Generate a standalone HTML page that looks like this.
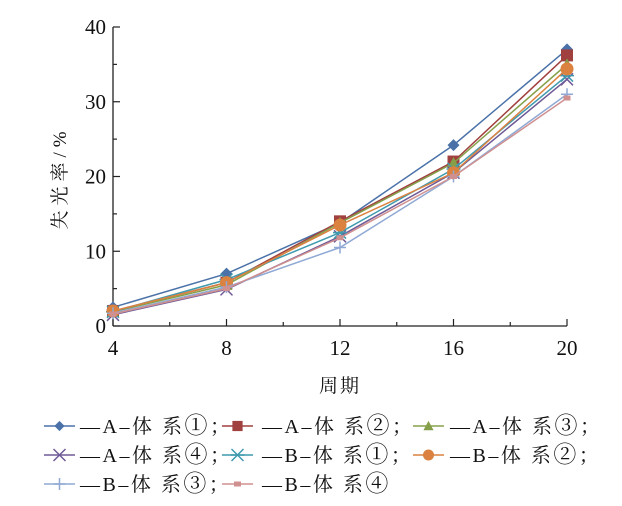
<!DOCTYPE html>
<html><head><meta charset="utf-8">
<style>
body{margin:0;background:#fff;}
svg text{font-family:"Liberation Serif","Noto Serif CJK SC",serif;fill:#111;}
</style></head>
<body>
<svg id="chart" width="622" height="501" xmlns="http://www.w3.org/2000/svg">
<g id="axes"></g>
<g id="series"></g>
<g id="legend"></g>
</svg>
<script>
const periods=[4,8,12,16,20];
const seriesNames=["A–体系①","A–体系②","A–体系③","A–体系④","B–体系①","B–体系②","B–体系③","B–体系④"];
const a1=[2.5,7.0,13.8,24.2,37.0];
const a2=[2.0,5.8,14.0,22.0,36.2];
const a3=[1.9,5.5,13.8,21.8,35.0];
const a4=[1.5,4.9,12.0,20.5,33.0];
const b1=[1.9,6.2,12.5,21.0,33.5];
const b2=[2.0,5.8,13.5,20.5,34.4];
const b3=[1.7,5.2,10.5,20.0,31.0];
const b4=[1.6,5.0,11.8,20.0,30.5];
const xTicks=[4,8,12,16,20];
const yTicks=[0,10,20,30,40];
const allSeries=[a1,a2,a3,a4,b1,b2,b3,b4];
const colors=["#4a72a8","#a0403f","#86a04a","#6e5a96","#3f9aae","#db8240","#8fa9d4","#d09090"];
const markers=["diamond","square","triangle","x","star","circle","plus","dash"];
const NS="http://www.w3.org/2000/svg";
const X0=113,X1=567,Y0=326,Y1=27;
const xs=v=>X0+(v-4)/(20-4)*(X1-X0);
const ys=v=>Y0-v/40*(Y0-Y1);
function mk(tag,attrs,parent){const e=document.createElementNS(NS,tag);for(const k in attrs)e.setAttribute(k,attrs[k]);parent.appendChild(e);return e;}
const axes=document.getElementById('axes');
let l=mk('line',{x1:X0,y1:Y1,x2:X0,y2:Y0,stroke:'#222','stroke-width':1.3},axes);

l=mk('line',{x1:X0,y1:Y0,x2:X1,y2:Y0,stroke:'#222','stroke-width':1.3},axes);

yTicks.forEach(v=>{
  const y=ys(v);
  mk('line',{x1:X0,y1:y,x2:X0+7,y2:y,stroke:'#222','stroke-width':1.2},axes);
  if(v<40) mk('line',{x1:X0,y1:ys(v+5),x2:X0+4,y2:ys(v+5),stroke:'#222','stroke-width':1.2},axes);
  const t=mk('text',{x:X0-7,y:y+7,'text-anchor':'end','font-size':21},axes);
  t.textContent=v;
  
  
});
xTicks.forEach((v,i)=>{
  const x=xs(v);
  mk('line',{x1:x,y1:Y0,x2:x,y2:Y0-7,stroke:'#222','stroke-width':1.2},axes);
  if(i<xTicks.length-1) mk('line',{x1:xs(v+2),y1:Y0,x2:xs(v+2),y2:Y0-4,stroke:'#222','stroke-width':1.2},axes);
  const t=mk('text',{x:x,y:Y0+29,'text-anchor':'middle','font-size':21},axes);
  t.textContent=v;
  
  
});
let t=mk('text',{x:340,y:392,'text-anchor':'middle','font-size':19,'letter-spacing':'2'},axes);
t.textContent='周期';


t=mk('text',{x:0,y:0,'text-anchor':'middle','font-size':19,'letter-spacing':'5',transform:'translate(66,178) rotate(-90)'},axes);
t.textContent='失光率/%';



function marker(type,x,y,c,parent,s){
  s=s||1;let e;
  if(type==='diamond') e=mk('polygon',{points:`${x},${y-6*s} ${x+6*s},${y} ${x},${y+6*s} ${x-6*s},${y}`,fill:c},parent);
  else if(type==='square') e=mk('rect',{x:x-6*s,y:y-6*s,width:12*s,height:12*s,fill:c},parent);
  else if(type==='triangle') e=mk('polygon',{points:`${x},${y-6*s} ${x+6*s},${y+5*s} ${x-6*s},${y+5*s}`,fill:c},parent);
  else if(type==='circle') e=mk('circle',{cx:x,cy:y,r:6.5*s,fill:c},parent);
  else if(type==='x') e=mk('path',{d:`M${x-6},${y-6}L${x+6},${y+6}M${x-6},${y+6}L${x+6},${y-6}`,stroke:c,'stroke-width':1.5},parent);
  else if(type==='star') e=mk('path',{d:`M${x-6},${y-6}L${x+6},${y+6}M${x-6},${y+6}L${x+6},${y-6}M${x-7},${y}L${x+7},${y}`,stroke:c,'stroke-width':1.5},parent);
  else if(type==='plus') e=mk('path',{d:`M${x-6},${y}L${x+6},${y}M${x},${y-6}L${x},${y+6}`,stroke:c,'stroke-width':1.5},parent);
  else e=mk('rect',{x:x-3.5,y:y-2.5,width:7,height:5,fill:c},parent);
  return e;
}
const sg=document.getElementById('series');
allSeries.forEach((vals,si)=>{
  const g=mk('g',{},sg);
  
  
  const pts=vals.map((v,i)=>xs(periods[i])+','+ys(v)).join(' ');
  const pl=mk('polyline',{points:pts,fill:'none',stroke:colors[si],'stroke-width':1.5},g);
  
  
  vals.forEach((v,i)=>{
    const m=marker(markers[si],xs(periods[i]),ys(v),colors[si],g);
    
    
  });
});
const lg=document.getElementById('legend');
const colX=[[44,80],[222,262],[413,450]];
const rowY=[426,455,484];
seriesNames.forEach((n,i)=>{
  const r=Math.floor(i/3),c=i%3;
  const g=mk('g',{},lg);
  
  
  const y=rowY[r],x=colX[c][0];
  mk('line',{x1:x,y1:y,x2:x+31,y2:y,stroke:colors[i],'stroke-width':1.5},g);
  marker(markers[i],x+15.5,y,colors[i],g,0.85);
  const tx=mk('text',{x:colX[c][1],y:y+7,'font-size':20,'letter-spacing':'2.5'},g);
  const base=n.slice(0,-1).replace('体系','体 系');
  const num=n.slice(-1);
  const s1=mk('tspan',{},tx); s1.textContent='—'+base;
  const s2=mk('tspan',{'font-size':23},tx); s2.textContent=num;
  if(i<7){const s3=mk('tspan',{},tx); s3.textContent='；';}
});
</script>
</body></html>
